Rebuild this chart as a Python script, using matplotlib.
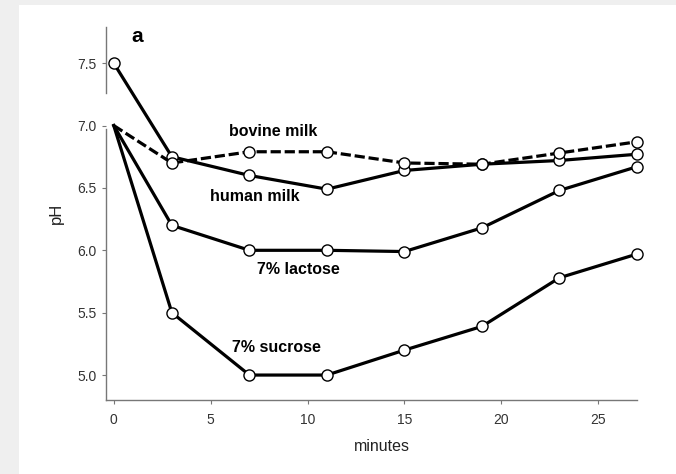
import matplotlib
matplotlib.use("Agg")
import matplotlib.pyplot as plt
from matplotlib.patches import Rectangle

plt.rcParams['font.family'] = ['Liberation Sans', 'DejaVu Sans']

# data (time in minutes, pH)
minutes = [0, 3, 7, 11, 15, 19, 23, 27]
human_milk = [7.5, 6.75, 6.6, 6.49, 6.64, 6.69, 6.72, 6.77]
bovine_milk = [7.0, 6.7, 6.79, 6.79, 6.7, 6.69, 6.78, 6.87]
lactose = [7.0, 6.2, 6.0, 6.0, 5.99, 6.18, 6.48, 6.67]
sucrose = [7.0, 5.5, 5.0, 5.0, 5.2, 5.39, 5.78, 5.97]

xticks = [0, 5, 10, 15, 20, 25]
yticks = [5.0, 5.5, 6.0, 6.5, 7.0, 7.5]

fig = plt.figure(figsize=(6.76, 4.74), dpi=100, facecolor='#efefef')
# white page area
fig.patches.append(Rectangle((19/676, 0), 1, 1 - 5/474, transform=fig.transFigure,
                             facecolor='white', edgecolor='none', zorder=-10))
ax = fig.add_axes([106/676, 74/474, 531/676, 373/474])
ax.set_facecolor('white')

mk = dict(marker='o', markersize=8, markerfacecolor='white',
          markeredgecolor='black', markeredgewidth=1.0, clip_on=False)
lw = 2.3

ax.plot(minutes, human_milk, color='black', lw=lw, **mk, zorder=3)
ax.plot(minutes, bovine_milk, color='black', lw=lw, dashes=(3.2, 1.2),
        markevery=slice(1, None), **mk, zorder=3)
ax.plot(minutes, lactose, color='black', lw=lw, markevery=slice(1, None), **mk, zorder=3)
ax.plot(minutes, sucrose, color='black', lw=lw, markevery=slice(1, None), **mk, zorder=3)

ax.set_xlim(-0.4, 27.0)
ax.set_ylim(4.8, 7.79)
ax.set_xticks(xticks)
ax.set_yticks(yticks)
ax.set_yticklabels(['%.1f' % v for v in yticks])

for s in ['top', 'right', 'left']:
    ax.spines[s].set_visible(False)
ax.spines['bottom'].set_color('#777777')
ax.spines['bottom'].set_linewidth(1.0)

# broken y axis
yt = ax.get_yaxis_transform()
ax.plot([0, 0], [4.8, 6.97], transform=yt, color='#777777', lw=1.0, clip_on=False)
ax.plot([0, 0], [7.26, 7.79], transform=yt, color='#777777', lw=1.0, clip_on=False)

ax.tick_params(axis='both', direction='out', length=3, width=0.8, color='#777777',
               labelsize=10, labelcolor='#333333')
ax.tick_params(axis='x', pad=6)

ax.set_xlabel('minutes', fontsize=11.5, color='#222222')
ax.xaxis.set_label_coords(0.52, -0.105)
ax.set_ylabel('pH', fontsize=12, color='#222222', labelpad=10)

tk = dict(fontsize=11.5, fontweight='bold', color='black', va='center', ha='left')
ax.text(0.93, 7.71, 'a', fontsize=15, fontweight='bold', va='center', ha='left')
ax.text(5.95, 6.95, 'bovine milk', **tk)
ax.text(4.96, 6.43, 'human milk', **tk)
ax.text(7.38, 5.85, '7% lactose', **tk)
ax.text(6.09, 5.22, '7% sucrose', **tk)

fig.savefig('out.png', dpi=100, facecolor=fig.get_facecolor())
